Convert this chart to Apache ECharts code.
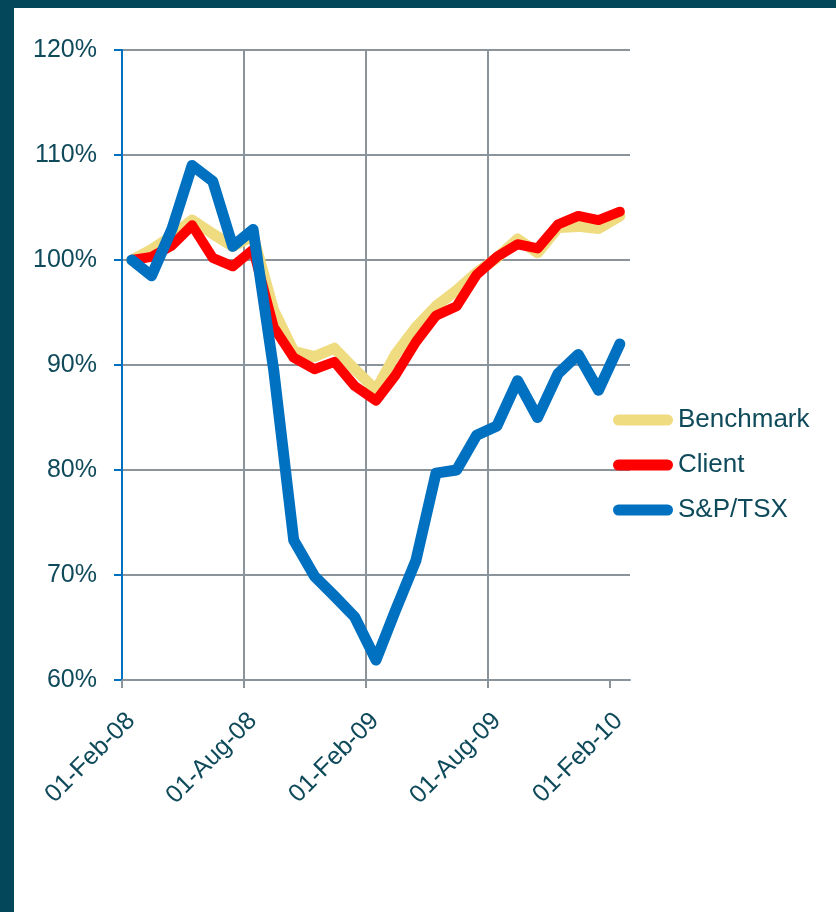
<!DOCTYPE html>
<html>
<head>
<meta charset="utf-8">
<script src="https://cdn.jsdelivr.net/npm/echarts@6/dist/echarts.min.js"></script>
<style>
  html, body { margin: 0; padding: 0; background: #fff; }
  #frame {
    position: absolute; left: 0; top: 0;
    width: 836px; height: 912px;
    box-sizing: border-box;
    border-top: 8px solid #03485a;
    border-left: 14px solid #03485a;
  }
  #chart { position: absolute; left: 0; top: 0; width: 836px; height: 912px; }
</style>
</head>
<body>
<div id="frame"></div>
<div id="chart"></div>
<script>
// monthly observation dates
const dates = [
  '2008-02-15', '2008-03-15', '2008-04-15', '2008-05-15', '2008-06-15',
  '2008-07-15', '2008-08-15', '2008-09-15', '2008-10-15', '2008-11-15',
  '2008-12-15', '2009-01-15', '2009-02-15', '2009-03-15', '2009-04-15',
  '2009-05-15', '2009-06-15', '2009-07-15', '2009-08-15', '2009-09-15',
  '2009-10-15', '2009-11-15', '2009-12-15', '2010-01-15', '2010-02-15'
];

// values in % of start
const benchmark = [
  100.0, 101.0, 102.3, 103.8, 102.5, 101.3, 102.3, 95.2, 91.3, 90.8,
  91.6, 89.6, 87.6, 91.0, 93.6, 95.6, 97.1, 98.8, 100.2, 102.0,
  100.7, 103.1, 103.2, 103.0, 104.2
];
const client = [
  100.0, 100.3, 101.4, 103.3, 100.2, 99.4, 101.0, 93.6, 90.7, 89.6,
  90.3, 88.0, 86.6, 89.0, 92.2, 94.7, 95.6, 98.6, 100.3, 101.5,
  101.1, 103.4, 104.2, 103.8, 104.6
];
const tsx = [
  100.0, 98.5, 103.0, 109.0, 107.5, 101.3, 102.9, 89.5, 73.3, 69.9,
  68.0, 66.0, 61.9, 66.6, 71.4, 79.7, 80.0, 83.3, 84.2, 88.5,
  85.0, 89.2, 91.0, 87.6, 92.0
];

const xTickLabels = ['01-Feb-08', '01-Aug-08', '01-Feb-09', '01-Aug-09', '01-Feb-10'];
const yTicks = [60, 70, 80, 90, 100, 110, 120];

// x axis runs in months counted from 01-Feb-08
function monthsFromStart(s) {
  const [y, m, d] = s.split('-').map(Number);
  const dim = new Date(y, m, 0).getDate();
  return (y - 2008) * 12 + (m - 2) + (d - 1) / dim;
}
const xs = dates.map(monthsFromStart);
const tickMonths = xTickLabels.map((_, i) => i * 6);
const pair = arr => arr.map((v, i) => [xs[i], v]);

const textColor = '#0f4a5b';
const gridColor = '#8b949b';
const font = "'Liberation Sans', Arial, sans-serif";
// pill shaped legend key, like a thick line with round caps
const pill = 'path://M5.5,0H54.5A5.5,5.5,0,0,1,54.5,11H5.5A5.5,5.5,0,0,1,5.5,0Z';

const chart = echarts.init(document.getElementById('chart'));
chart.setOption({
  animation: false,
  grid: { left: 122, right: 206, top: 50, bottom: 232 },
  legend: {
    orient: 'vertical',
    left: 608,
    top: 400,
    itemWidth: 60,
    itemHeight: 11,
    itemGap: 15,
    icon: pill,
    textStyle: { color: textColor, fontSize: 26, fontFamily: font, lineHeight: 30 },
    data: ['Benchmark', 'Client', 'S&P/TSX']
  },
  xAxis: {
    type: 'value',
    min: 0,
    max: 25,
    interval: 6,
    axisLine: { show: true, lineStyle: { color: gridColor, width: 2 } },
    axisTick: { show: true, length: 8, customValues: tickMonths, lineStyle: { color: gridColor, width: 2 } },
    splitLine: { show: true, showMaxLine: false, lineStyle: { color: gridColor, width: 2 } },
    axisLabel: {
      rotate: 45,
      margin: 37,
      customValues: tickMonths.map(m => m + 0.45),
      color: textColor,
      fontSize: 25,
      fontFamily: font,
      formatter: v => xTickLabels[Math.round((v - 0.45) / 6)] || ''
    }
  },
  yAxis: {
    type: 'value',
    min: yTicks[0],
    max: yTicks[yTicks.length - 1],
    interval: 10,
    axisLine: { show: true, lineStyle: { color: '#0070c0', width: 2 } },
    axisTick: { show: true, length: 8, lineStyle: { color: '#0070c0', width: 2 } },
    splitLine: { show: true, lineStyle: { color: gridColor, width: 2 } },
    axisLabel: {
      margin: 25,
      color: textColor,
      fontSize: 25,
      fontFamily: font,
      formatter: '{value}%'
    }
  },
  series: [
    {
      name: 'Benchmark', type: 'line', data: pair(benchmark),
      symbol: 'none', color: '#efdc80', z: 2,
      lineStyle: { width: 11, cap: 'round', join: 'round' }
    },
    {
      name: 'Client', type: 'line', data: pair(client),
      symbol: 'none', color: '#ff0000', z: 3,
      lineStyle: { width: 10, cap: 'round', join: 'round' }
    },
    {
      name: 'S&P/TSX', type: 'line', data: pair(tsx),
      symbol: 'none', color: '#0070c0', z: 4,
      lineStyle: { width: 11, cap: 'round', join: 'round' }
    }
  ]
});
</script>
</body>
</html>
